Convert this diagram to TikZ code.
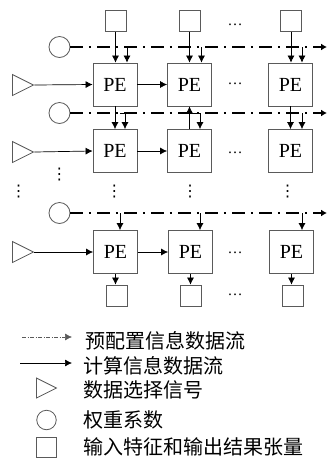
\documentclass[tikz,border=0pt]{standalone}
\usepackage{fontspec}
\setmainfont{Liberation Serif}
\newfontfamily\cjk{Noto Sans CJK SC}
\newfontfamily\symb{DejaVu Sans}
\usetikzlibrary{shapes.geometric,arrows.meta,positioning}
\definecolor{EdgeGray}{RGB}{90,90,90}

\begin{document}
\begin{tikzpicture}[x=1pt, y=1pt,
  pe/.style={rectangle, draw=EdgeGray, line width=0.8pt, minimum width=44pt, minimum height=43pt,
             inner sep=0pt, font=\fontsize{20}{24}\selectfont},
  tensor/.style={rectangle, draw=EdgeGray, line width=0.8pt, minimum size=21pt, inner sep=0pt},
  weight/.style={circle, draw=EdgeGray, line width=0.8pt, minimum size=21pt, inner sep=0pt},
  select/.style={isosceles triangle, isosceles triangle stretches, draw=EdgeGray, line width=0.8pt,
                 minimum width=21pt, minimum height=21pt, inner sep=0pt, anchor=west},
  arrow/.style={-{Latex[length=7pt,width=7pt]}, line width=0.7pt},
  preflow/.style={-{Latex[length=6pt,width=7pt]}, line width=2.2pt,
                  dash pattern=on 13pt off 5.5pt on 2.5pt off 6pt},
  legflow/.style={-{Latex[length=7pt,width=7pt]}, line width=0.6pt, EdgeGray,
                  dash pattern=on 4pt off 1.5pt on 1pt off 1.5pt},
  hdots/.style={font=\fontsize{15}{18}\selectfont, inner sep=0pt},
  vdotmark/.style={font=\symb\fontsize{16}{18}\selectfont, inner sep=0pt},
  legendtext/.style={font=\cjk\fontsize{20}{24}\selectfont, anchor=west, inner sep=0pt}
]
\useasboundingbox (0,0) rectangle (331,-459);

% input tensors on top
\node[tensor] (t1) at (115.5,-21) {};
\node[tensor] (t2) at (189.5,-21) {};
\node[tensor] (t3) at (291,-21) {};
\node[hdots] (td) at (235,-25) {…};

% weights and pre-configuration lines
\node[weight] (w1) at (59.5,-47) {};
\node[weight] (w2) at (59.5,-113) {};
\node[weight] (w3) at (59.5,-213) {};
\coordinate (e1) at (327,-47);
\coordinate (e2) at (327,-113);
\coordinate (e3) at (327,-213);
\draw[preflow] (w1.east) -- (e1);
\draw[preflow] (w2.east) -- (e2);
\draw[preflow] (w3.east) -- (e3);

% data select signals
\node[select] (s1) at (12,-85) {};
\node[select] (s2) at (12,-152) {};
\node[select] (s3) at (12,-252) {};

% PE array
\node[pe] (p11) at (115,-84.5) {PE};
\node[pe] (p12) at (189.5,-84.5) {PE};
\node[pe] (p13) at (290.5,-84.5) {PE};
\node[pe] (p21) at (115,-151) {PE};
\node[pe] (p22) at (189.5,-151) {PE};
\node[pe] (p23) at (290.5,-151) {PE};
\node[pe] (p31) at (115.5,-252) {PE};
\node[pe] (p32) at (190.5,-252) {PE};
\node[pe] (p33) at (291.5,-252) {PE};
\node[hdots] (d1) at (235,-83.5) {…};
\node[hdots] (d2) at (235,-153) {…};
\node[hdots] (d3) at (235,-253) {…};

% vertical dots
\node[vdotmark] (v0) at (59.5,-175) {⋮};
\node[vdotmark] (v1) at (18.5,-191.5) {⋮};
\node[vdotmark] (v2) at (114.5,-191.5) {⋮};
\node[vdotmark] (v3) at (190,-191.5) {⋮};
\node[vdotmark] (v4) at (287.5,-191.5) {⋮};

% output tensors
\node[tensor] (b1) at (116.5,-295.5) {};
\node[tensor] (b2) at (190.5,-295.5) {};
\node[tensor] (b3) at (292.5,-295.5) {};
\node[hdots] (bd) at (235,-295) {…};

% computing data flow
\draw[arrow] (s1.east) -- (p11.west);
\draw[arrow] (p11.east) -- (p12.west);
\draw[arrow] (s2.east) -- (p21.west);
\draw[arrow] (p21.east) -- (p22.west);
\draw[arrow] (s3.east) -- (p31.west);
\draw[arrow] (p31.east) -- (p32.west);

% row 1
\draw[arrow] (t1.south) -- (t1.south |- p11.north);
\draw[arrow] (t2.south) -- (t2.south |- p12.north);
\draw[arrow] (t3.south) -- (t3.south |- p13.north);
\draw[arrow] ([xshift=12pt]p11.north |- w1) -- ([xshift=12pt]p11.north);
\draw[arrow] ([xshift=12pt]p12.north |- w1) -- ([xshift=12pt]p12.north);
\draw[arrow] ([xshift=11.5pt]p13.north |- w1) -- ([xshift=11.5pt]p13.north);

% row 2
\draw[arrow] (p11.south) -- (p21.north);
\draw[arrow] ([xshift=5pt]p21.north |- w2) -| ([xshift=10pt]p21.north);
\draw[arrow] (p22.north) -- (p12.south);
\draw[arrow] (p22.north |- w2) -| ([xshift=10.5pt]p22.north);
\draw[arrow] (p13.south) -- (p23.north);
\draw[arrow] ([xshift=11.5pt]p23.north |- w2) -- ([xshift=11.5pt]p23.north);

% row 3
\draw[arrow] ([xshift=4.5pt]p31.north |- w3) -- ([xshift=4.5pt]p31.north);
\draw[arrow] ([xshift=9.5pt]p32.north |- w3) -- ([xshift=9.5pt]p32.north);
\draw[arrow] ([xshift=10.5pt]p33.north |- w3) -- ([xshift=10.5pt]p33.north);
\draw[arrow] (p31.south) -- (p31.south |- b1.north);
\draw[arrow] (p32.south) -- (p32.south |- b2.north);
\draw[arrow] (p33.south) -- (p33.south |- b3.north);

% legend
\coordinate (l1a) at (22,-337);
\coordinate (l1b) at (72,-337);
\draw[legflow] (l1a) -- (l1b);
\node[legendtext] (lt1) at (85,-341) {预配置信息数据流};
\coordinate (l2a) at (20,-363);
\coordinate (l2b) at (72,-363);
\draw[arrow] (l2a) -- (l2b);
\node[legendtext] (lt2) at (83,-366) {计算信息数据流};
\node[select, minimum width=20pt, minimum height=20pt] (ls) at (36,-388) {};
\node[legendtext] (lt3) at (83,-390) {数据选择信号};
\node[weight, minimum size=19.5pt] (lw) at (46.5,-420) {};
\node[legendtext] (lt4) at (83,-420) {权重系数};
\node[tensor, minimum size=20pt] (lq) at (46.7,-447.5) {};
\node[legendtext] (lt5) at (83,-447) {输入特征和输出结果张量};
\end{tikzpicture}
\end{document}
